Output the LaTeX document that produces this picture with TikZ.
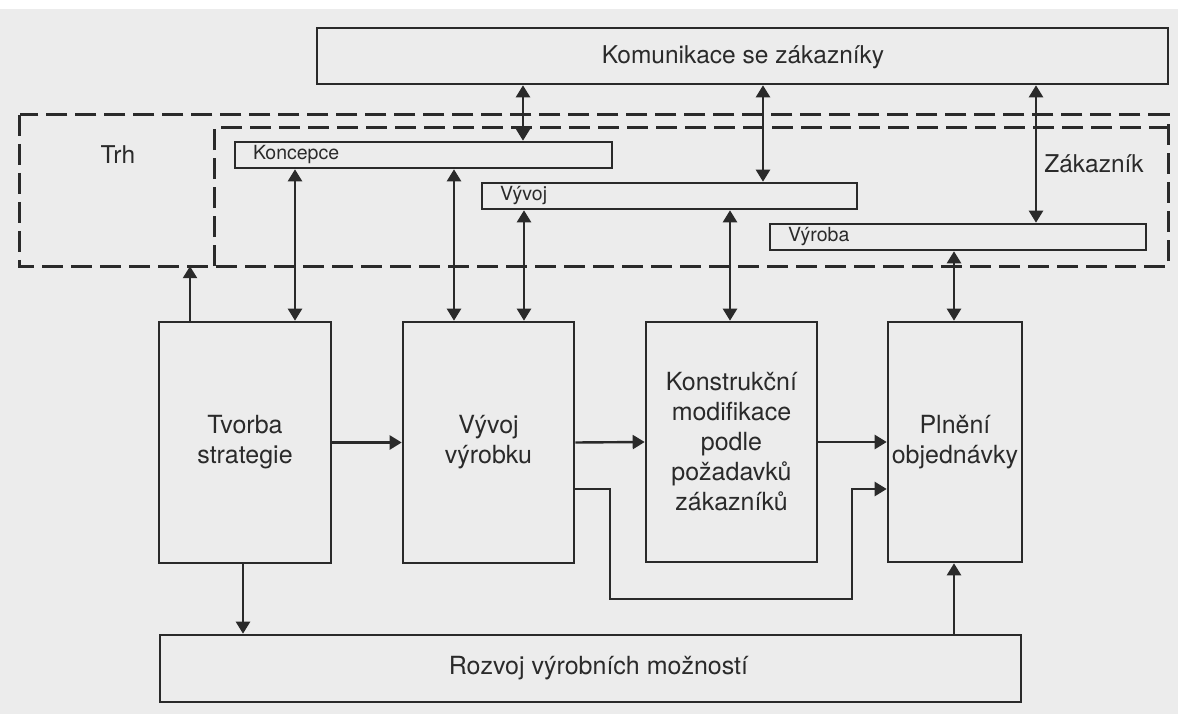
\documentclass[tikz,border=0pt]{standalone}
\usepackage{fontspec}
\setmainfont{TeX Gyre Heros}
\usetikzlibrary{arrows.meta}
\definecolor{ink}{HTML}{2A2A2A}
\definecolor{paper}{HTML}{ECECEC}
\begin{document}
\begin{tikzpicture}[x=1pt,y=-1pt,
  every node/.style={text=ink},
  boxline/.style={draw=ink,line width=2.6pt},
  bigbox/.style={boxline,rectangle,inner sep=0pt,align=center,
     font=\fontsize{25}{30}\selectfont},
  bar/.style={boxline,rectangle,inner ysep=0pt,inner xsep=18pt,align=left,
     font=\fontsize{19.5}{22}\selectfont,minimum height=26pt},
  dashline/.style={draw=ink,line width=3pt,dash pattern=on 21pt off 8pt},
  region/.style={rectangle,inner sep=0pt},
  lbl/.style={font=\fontsize{24.5}{28}\selectfont,inner sep=0pt},
  conn/.style={draw=ink,line width=2.4pt},
  one/.style={conn,-{Triangle[length=12pt,width=14pt]}},
  both/.style={conn,{Triangle[length=12pt,width=14pt]}-{Triangle[length=12pt,width=14pt]}}
]
\useasboundingbox (0,0) rectangle (1178,714);
\fill[white] (0,0) rectangle (1178,714);
\fill[paper] (0,9) rectangle (1178,714);

% market and customer regions
\node[region,minimum width=1148pt,minimum height=151pt] (trh) at (594,190.5) {};
\node[region,minimum width=953pt,minimum height=138pt] (zak) at (691.5,197) {};
\draw[dashline] (trh.north west) rectangle (trh.south east);
\draw[dashline] (zak.south west) -- (zak.north west) -- (zak.north east);
\node[lbl] (trhl) at (118,155) {Trh};
\node[lbl] (zakl) at (1094,164) {Zákazník};

% top communication box
\node[bigbox,minimum width=851pt,minimum height=56pt] (kom) at (742.5,56) {\hspace*{0pt}};
\node[lbl] (koml) at (743,57) {Komunikace se zákazníky};

% bars
\node[bar,minimum width=377pt,text width=341pt] (konc) at (423.5,155) {Koncepce};
\node[bar,minimum width=375pt,text width=339pt] (vyvb) at (669.5,196) {Vývoj};
\node[bar,minimum width=376pt,text width=340pt] (vyrb) at (958,237) {Výroba};

% process boxes
\node[bigbox,minimum width=172pt,minimum height=241pt] (tvorba) at (245,442.5) {Tvorba\\strategie};
\node[bigbox,minimum width=171pt,minimum height=241pt] (vyvoj) at (488.5,442.5) {Vývoj\\výrobku};
\node[bigbox,minimum width=171pt,minimum height=240pt] (konst) at (731.5,442) {Konstrukční\\modifikace\\podle\\požadavků\\zákazníků};
\node[bigbox,minimum width=134pt,minimum height=240pt] (plneni) at (955,442) {Plnění\\objednávky};

% bottom box
\node[bigbox,minimum width=861pt,minimum height=67pt] (rozvoj) at (590.5,668.5) {\hspace*{16pt}Rozvoj výrobních možností};

% two-way links
\draw[both] (523,0 |- kom.south) -- (523,0 |- konc.north);
\draw[both] (763,0 |- kom.south) -- (763,0 |- vyvb.north);
\draw[both] (1036,0 |- kom.south) -- (1036,0 |- vyrb.north);
\draw[both] (295,0 |- konc.south) -- (295,0 |- tvorba.north);
\draw[both] (454,0 |- konc.south) -- (454,0 |- vyvoj.north);
\draw[both] (524,0 |- vyvb.south) -- (524,0 |- vyvoj.north);
\draw[both] (730,0 |- vyvb.south) -- (730,0 |- konst.north);
\draw[both] (954,0 |- vyrb.south) -- (954,0 |- plneni.north);

% one-way links
\draw[one] (190,0 |- tvorba.north) -- (190,0 |- trh.south);
\draw[one] (tvorba.east) -- (vyvoj.west);
\draw[one] (vyvoj.east) -- (konst.west);
\draw[one] (konst.east) -- (plneni.west);
\draw[one] (vyvoj.east |- 0,489) -- (610,489) -- (610,599) -- (852,599) -- (852,489) -- (plneni.west |- 0,489);
\draw[one] (243,0 |- tvorba.south) -- (243,0 |- rozvoj.north);
\draw[one] (954,0 |- rozvoj.north) -- (954,0 |- plneni.south);
\end{tikzpicture}
\end{document}
